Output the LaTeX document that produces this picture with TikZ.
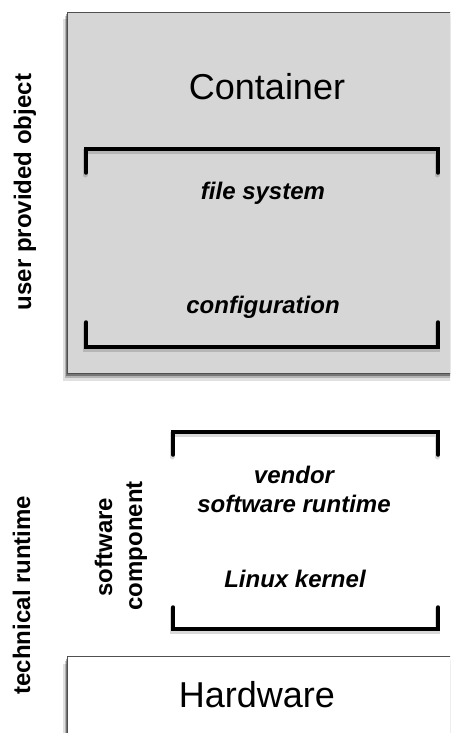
\documentclass[tikz,border=0pt]{standalone}
\usepackage{fontspec}
\setmainfont{Liberation Sans}
\usetikzlibrary{shadows}
\definecolor{boxgray}{HTML}{D6D6D6}
\definecolor{edgegray}{HTML}{505050}
\begin{document}
\begin{tikzpicture}[x=1pt,y=-1pt,
  layerbox/.style={draw=edgegray, line width=1pt, rectangle, anchor=north west, inner sep=0pt,
    drop shadow={shadow xshift=-5pt, shadow yshift=-7pt, opacity=0.12, fill=black},
    drop shadow={shadow xshift=-3pt, shadow yshift=-4pt, opacity=0.2, fill=black},
    drop shadow={shadow xshift=-2pt, shadow yshift=-2pt, opacity=0.35, fill=black}},
  bracketline/.style={line width=3.5pt, line cap=round, line join=miter},
  bracketshade/.style={line width=5pt, line cap=round, line join=miter, black, opacity=0.15},
  bigtext/.style={font=\fontsize{36}{40}\selectfont, anchor=base, inner sep=0pt},
  itemtext/.style={font=\fontsize{24}{29}\selectfont\bfseries\itshape, anchor=base, inner sep=0pt},
  sidetext/.style={font=\fontsize{24}{30}\selectfont\bfseries, rotate=90, anchor=base, inner sep=0pt}]
\useasboundingbox (0,0) rectangle (450,733);
\clip (0,0) rectangle (450,733);
% boxes
\node[layerbox, fill=boxgray, minimum width=420pt, minimum height=361pt] (container) at (67,12) {};
\node[layerbox, fill=white, minimum width=420pt, minimum height=120pt] (hardware) at (67,656) {};
% brackets (container)
\draw[bracketshade] (85,175) -- (85,151) -- (437,151) -- (437,175);
\draw[bracketline] (86,173) -- (86,149) -- (438,149) -- (438,173);
\draw[bracketshade] (85,324) -- (85,349) -- (437,349) -- (437,324);
\draw[bracketline] (86,322) -- (86,347) -- (438,347) -- (438,322);
% brackets (software component)
\draw[bracketshade] (172,457) -- (172,434) -- (437,434) -- (437,457);
\draw[bracketline] (173,455) -- (173,432) -- (438,432) -- (438,455);
\draw[bracketshade] (172,609) -- (172,631) -- (437,631) -- (437,609);
\draw[bracketline] (173,607) -- (173,629) -- (438,629) -- (438,607);
% texts
\node[bigtext] (ctitle) at (267,100) {Container};
\node[itemtext] (fs) at (263,199) {file system};
\node[itemtext] (cfg) at (263,313) {configuration};
\node[itemtext] (vendor) at (294,483) {vendor};
\node[itemtext] (swrt) at (294,512) {software runtime};
\node[itemtext] (kernel) at (295,587) {Linux kernel};
\node[bigtext] (hwtitle) at (257,707) {Hardware};
% side labels
\node[sidetext] (upo) at (31,192) {user provided object};
\node[sidetext] (tr) at (30,595) {technical runtime};
\node[sidetext] (sw) at (112,547) {software};
\node[sidetext] (comp) at (142,546) {component};
\end{tikzpicture}
\end{document}
